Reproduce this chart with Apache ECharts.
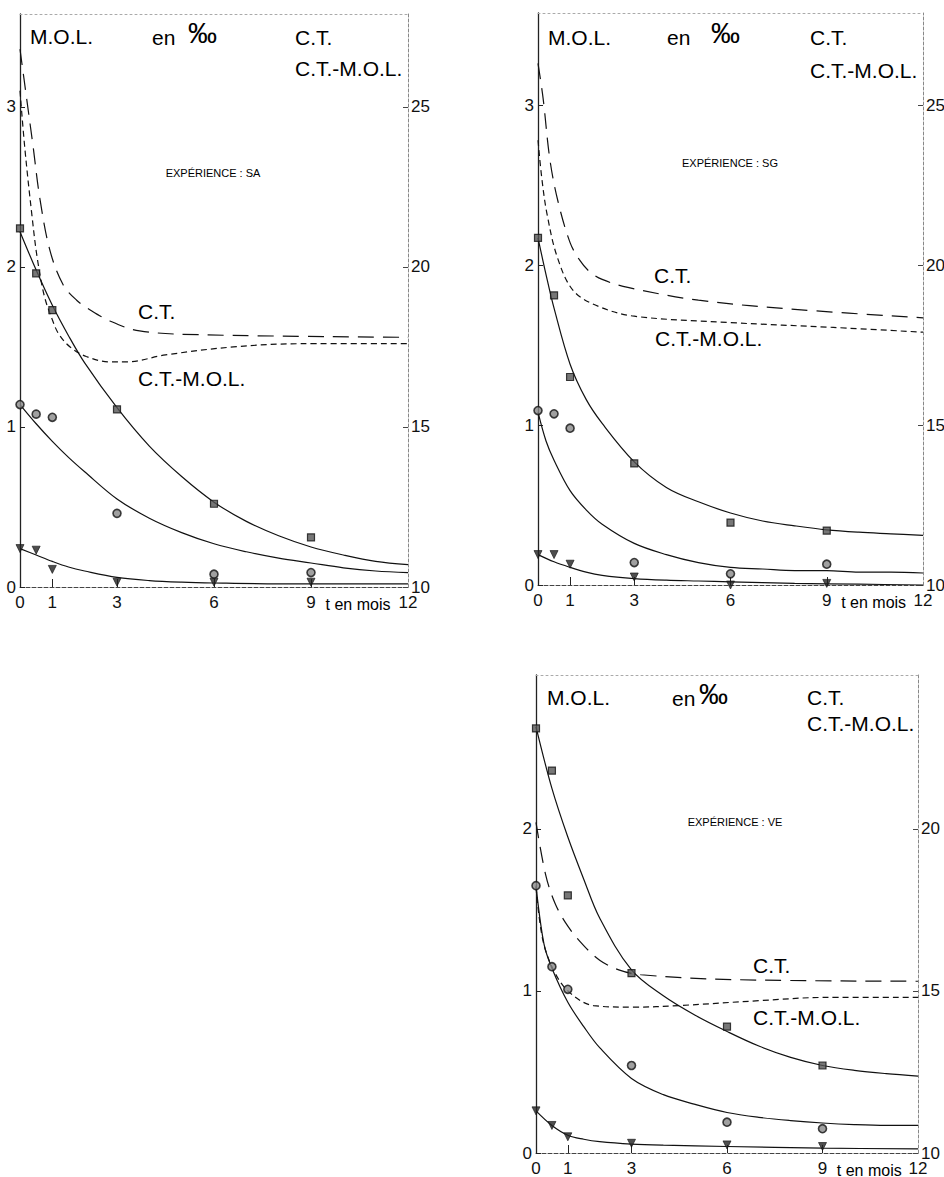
<!DOCTYPE html>
<html>
<head>
<meta charset="utf-8">
<script src="https://cdn.jsdelivr.net/npm/echarts@6/dist/echarts.min.js"></script>
<style>
  html, body { margin: 0; padding: 0; background: #fff; }
  #main { width: 944px; height: 1177px; }
</style>
</head>
<body>
<div id="main"></div>
<script>
const FONT = "'Liberation Sans', Arial, sans-serif";
const NARROW = "'Liberation Sans Narrow', 'Liberation Sans', Arial, sans-serif";

// sampling months of the measured points
const months = [0, 0.5, 1, 3, 6, 9];
const xLabels = [0, 1, 3, 6, 9, 12];

// Expérience SA
const saSquares = [2.24, 1.96, 1.73, 1.11, 0.52, 0.31];
const saCircles = [1.14, 1.08, 1.06, 0.46, 0.08, 0.09];
const saTriangles = [0.24, 0.23, 0.11, 0.03, 0.03, 0.03];
const saSquaresFit = [[0, 2.22], [0.5, 1.98], [1, 1.76], [1.5, 1.57], [2, 1.40], [3, 1.12], [4, 0.88], [5, 0.69], [6, 0.53], [7, 0.41], [8, 0.32], [9, 0.25], [10, 0.20], [11, 0.16], [12, 0.14]];
const saCirclesFit = [[0, 1.14], [0.5, 1.02], [1, 0.91], [1.5, 0.81], [2, 0.72], [3, 0.55], [4, 0.43], [5, 0.34], [6, 0.27], [7, 0.22], [8, 0.18], [9, 0.15], [10, 0.12], [11, 0.10], [12, 0.09]];
const saTrianglesFit = [[0, 0.24], [0.5, 0.20], [1, 0.16], [1.5, 0.125], [2, 0.10], [3, 0.06], [4, 0.04], [5, 0.03], [6, 0.025], [8, 0.02], [10, 0.02], [12, 0.02]];
const saCT = [[0, 26.8], [0.2, 25.3], [0.4, 23.8], [0.62, 22.1], [0.93, 20.5], [1.33, 19.45], [1.76, 18.95], [2.1, 18.7], [2.8, 18.3], [3.7, 18.0], [5.6, 17.88], [12, 17.8]];
const saCTMOL = [[0, 25.5], [0.15, 23.7], [0.37, 21.6], [0.53, 20.3], [0.75, 19.1], [1.0, 18.35], [1.2, 17.9], [1.55, 17.5], [2.05, 17.2], [2.8, 17.03], [3.3, 17.03], [4.5, 17.25], [6.6, 17.5], [8.7, 17.6], [12, 17.6]];

// Expérience SG
const sgSquares = [2.17, 1.81, 1.30, 0.76, 0.39, 0.34];
const sgCircles = [1.09, 1.07, 0.98, 0.14, 0.07, 0.13];
const sgTriangles = [0.19, 0.19, 0.13, 0.05, 0.0, 0.01];
const sgSquaresFit = [[0, 2.17], [0.25, 1.94], [0.5, 1.73], [1, 1.38], [1.5, 1.16], [2, 1.01], [3, 0.77], [4, 0.61], [5, 0.52], [6, 0.45], [7, 0.40], [8, 0.37], [9, 0.345], [10, 0.33], [11, 0.32], [12, 0.31]];
const sgCirclesFit = [[0, 1.08], [0.25, 0.90], [0.5, 0.78], [1, 0.59], [1.5, 0.47], [2, 0.38], [3, 0.26], [4, 0.19], [5, 0.14], [6, 0.11], [7, 0.10], [8, 0.09], [9, 0.09], [10, 0.08], [11, 0.08], [12, 0.075]];
const sgTrianglesFit = [[0, 0.19], [0.5, 0.145], [1, 0.11], [1.5, 0.08], [2, 0.06], [3, 0.04], [4, 0.03], [5, 0.025], [6, 0.02], [8, 0.01], [10, 0.005], [12, 0.0]];
const sgCT = [[0, 26.3], [0.16, 25.2], [0.37, 23.3], [0.62, 22.0], [1.0, 20.7], [1.3, 20.15], [1.6, 19.8], [2.0, 19.55], [2.8, 19.3], [5.0, 18.9], [8.2, 18.6], [12, 18.35]];
const sgCTMOL = [[0, 23.9], [0.12, 22.7], [0.28, 21.6], [0.6, 20.25], [1.1, 19.2], [1.9, 18.7], [3.0, 18.4], [6.0, 18.2], [9.2, 18.05], [12, 17.9]];

// Expérience VE
const veSquares = [2.62, 2.36, 1.59, 1.11, 0.78, 0.54];
const veCircles = [1.65, 1.15, 1.01, 0.54, 0.19, 0.15];
const veTriangles = [0.26, 0.17, 0.10, 0.06, 0.05, 0.04];
const veSquaresFit = [[0, 2.63], [0.5, 2.25], [1, 1.95], [1.5, 1.69], [2, 1.45], [3, 1.13], [4, 0.97], [5, 0.85], [6, 0.75], [7, 0.66], [8, 0.59], [9, 0.54], [10, 0.51], [11, 0.49], [12, 0.475]];
const veCirclesFit = [[0, 1.65], [0.25, 1.29], [0.5, 1.14], [1, 0.93], [1.5, 0.78], [2, 0.65], [3, 0.46], [4, 0.36], [5, 0.30], [6, 0.25], [7, 0.22], [8, 0.20], [9, 0.185], [10, 0.175], [11, 0.17], [12, 0.17]];
const veTrianglesFit = [[0, 0.26], [0.5, 0.17], [1, 0.11], [1.5, 0.085], [2, 0.07], [3, 0.055], [4, 0.048], [6, 0.04], [9, 0.03], [12, 0.025]];
const veCT = [[0, 20.2], [0.3, 18.6], [0.6, 17.7], [1.0, 17.0], [1.5, 16.4], [2.0, 15.95], [2.6, 15.65], [3.3, 15.5], [6.2, 15.35], [12, 15.3]];
const veCTMOL = [[0, 18.2], [0.22, 16.55], [0.6, 15.55], [1.06, 14.95], [1.8, 14.55], [3.05, 14.5], [4.5, 14.55], [7, 14.7], [9.1, 14.8], [12, 14.8]];

const panelData = [
  { name: 'SA', squares: saSquares, circles: saCircles, triangles: saTriangles,
    squaresFit: saSquaresFit, circlesFit: saCirclesFit, trianglesFit: saTrianglesFit, ct: saCT, ctmol: saCTMOL },
  { name: 'SG', squares: sgSquares, circles: sgCircles, triangles: sgTriangles,
    squaresFit: sgSquaresFit, circlesFit: sgCirclesFit, trianglesFit: sgTrianglesFit, ct: sgCT, ctmol: sgCTMOL },
  { name: 'VE', squares: veSquares, circles: veCircles, triangles: veTriangles,
    squaresFit: veSquaresFit, circlesFit: veCirclesFit, trianglesFit: veTrianglesFit, ct: veCT, ctmol: veCTMOL }
];

// layout of the three panels (pixels) and left axis extent; right axis = 10 + 5 * left
const layout = [
  { left: 20, top: 14, width: 388, height: 573, yMax: 3.58,
    head: { mol: [30, 36], en: [152, 37], pm: [188, 33], ct: [295, 37], ctmol: [295, 68] },
    exp: [213, 173], ctLabel: [138, 311], ctmolLabel: [138, 378] },
  { left: 538, top: 13, width: 385, height: 572, yMax: 3.575,
    head: { mol: [548, 37], en: [667, 37], pm: [711, 33], ct: [810, 37], ctmol: [810, 70] },
    exp: [730, 163], ctLabel: [654, 275], ctmolLabel: [655, 338] },
  { left: 536, top: 675, width: 382, height: 478, yMax: 2.95,
    head: { mol: [547, 697], en: [672, 698], pm: [699, 694], ct: [807, 697], ctmol: [807, 723] },
    exp: [735, 822], ctLabel: [753, 965], ctmolLabel: [753, 1017] }
];

const pts = arr => months.map((m, k) => [m, arr[k]]);

const grids = [];
const xAxes = [];
const yAxes = [];
const series = [];
const graphics = [];

const text = (pos, str, size, extra) => ({
  type: 'text',
  x: pos[0],
  y: pos[1],
  silent: true,
  style: Object.assign({ text: str, fontSize: size, fontFamily: FONT, fill: '#000', verticalAlign: 'middle' }, extra || {})
});

layout.forEach((p, i) => {
  const d = panelData[i];
  const rMax = 10 + 5 * p.yMax;
  grids.push({ left: p.left, top: p.top, width: p.width, height: p.height, outerBoundsMode: 'none' });

  xAxes.push({
    type: 'value', gridIndex: i, position: 'bottom', min: 0, max: 12,
    axisLine: { lineStyle: { color: '#444', width: 1, type: [4, 2] } },
    axisTick: { inside: true, length: 8, customValues: [1, 3, 6, 9], lineStyle: { color: '#222' } },
    axisLabel: { customValues: xLabels, margin: 7, fontSize: 17, fontFamily: NARROW, color: '#111' },
    splitLine: { show: false }
  });
  xAxes.push({
    type: 'value', gridIndex: i, position: 'top', min: 0, max: 12,
    axisLine: { lineStyle: { color: '#aaa', width: 1, type: [2, 3] } },
    axisTick: { show: false }, axisLabel: { show: false }, splitLine: { show: false }
  });

  const leftVals = [0, 1, 2, 3].filter(v => v <= p.yMax);
  const rightVals = [10, 15, 20, 25].filter(v => v <= rMax);
  yAxes.push({
    type: 'value', gridIndex: i, position: 'left', min: 0, max: p.yMax,
    axisLine: { show: true, onZero: false, lineStyle: { color: '#222', width: 1.3 } },
    axisTick: { show: true, inside: true, length: 5, customValues: leftVals, lineStyle: { color: '#222' } },
    axisLabel: { customValues: leftVals, margin: 4, fontSize: 17, fontFamily: NARROW, color: '#111' },
    splitLine: { show: false }
  });
  yAxes.push({
    type: 'value', gridIndex: i, position: 'right', min: 10, max: rMax,
    axisLine: { show: true, onZero: false, lineStyle: { color: '#888', width: 1, type: [3, 2] } },
    axisTick: { show: true, inside: true, length: 5, customValues: rightVals, lineStyle: { color: '#444' } },
    axisLabel: { customValues: rightVals, margin: 3, fontSize: 17, fontFamily: NARROW, color: '#111' },
    splitLine: { show: false }
  });

  const xi = i * 2;
  const yl = i * 2;
  const yr = i * 2 + 1;
  const curve = (data, yIndex, type) => ({
    type: 'line', xAxisIndex: xi, yAxisIndex: yIndex, data, smooth: 0.35,
    symbol: 'none', lineStyle: { color: '#111', width: 1.2, type: type || 'solid' }, z: 2
  });
  series.push(curve(d.squaresFit, yl), curve(d.circlesFit, yl), curve(d.trianglesFit, yl));
  series.push(curve(d.ct, yr, [16, 9]), curve(d.ctmol, yr, [6, 4]));
  series.push({
    type: 'scatter', xAxisIndex: xi, yAxisIndex: yl, data: pts(d.squares), symbol: 'rect', symbolSize: 7,
    itemStyle: { color: '#555', borderColor: '#111', borderWidth: 1.2 }, z: 3
  });
  series.push({
    type: 'scatter', xAxisIndex: xi, yAxisIndex: yl, data: pts(d.circles), symbol: 'circle', symbolSize: 8,
    itemStyle: { color: '#888', borderColor: '#111', borderWidth: 1.6 }, z: 3
  });
  series.push({
    type: 'scatter', xAxisIndex: xi, yAxisIndex: yl, data: pts(d.triangles), symbol: 'triangle', symbolRotate: 180,
    symbolSize: 8, itemStyle: { color: '#222', borderColor: '#111', borderWidth: 0.8 }, z: 3
  });

  const h = p.head;
  graphics.push(
    text(h.mol, 'M.O.L.', 21),
    text(h.en, 'en', 21),
    text(h.pm, '‰', 29),
    text(h.ct, 'C.T.', 21),
    text(h.ctmol, 'C.T.-M.O.L.', 21),
    text(p.exp, 'EXPÉRIENCE : ' + d.name, 11, { align: 'center' }),
    text(p.ctLabel, 'C.T.', 21),
    text(p.ctmolLabel, 'C.T.-M.O.L.', 21),
    text([p.left + 9.45 * p.width / 12, p.top + p.height + 17], 't en mois', 16, { fontFamily: NARROW })
  );
});

const myChart = echarts.init(document.getElementById('main'), null, { renderer: 'svg' });
myChart.setOption({
  backgroundColor: '#fff',
  animation: false,
  grid: grids,
  xAxis: xAxes,
  yAxis: yAxes,
  series: series,
  graphic: graphics
});
</script>
</body>
</html>
